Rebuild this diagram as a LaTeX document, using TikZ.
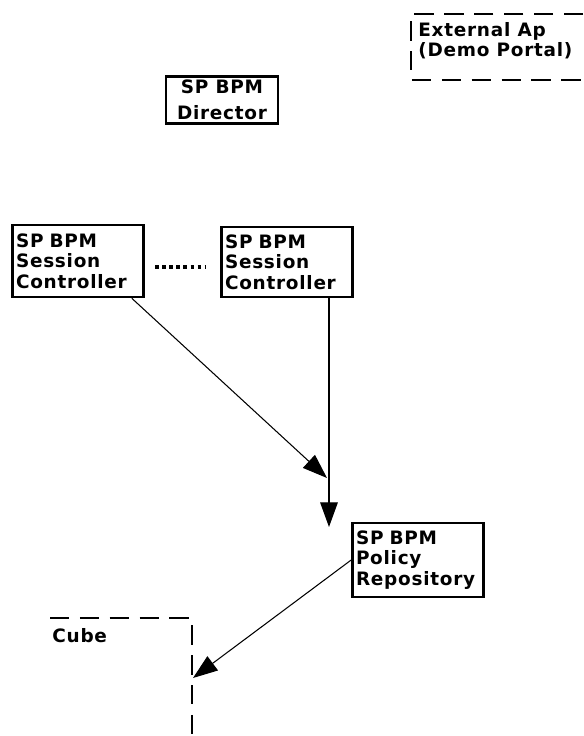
\documentclass[tikz,border=0pt]{standalone}
\usepackage{fontspec}
\newfontfamily\boxfont{DejaVu Sans}[LetterSpace=4]
\usetikzlibrary{arrows.meta}
\usetikzlibrary{positioning}

\tikzset{
  bpmbox/.style={draw=black,line width=1.5pt,rectangle,align=left,inner sep=2pt,
    font=\boxfont\bfseries\fontsize{10.5}{11.6}\selectfont},
  conn/.style={black,line width=0.6pt,-{Triangle[length=14pt,width=10pt]}},
  extbox/.style={black,line width=0.9pt,dash pattern=on 11pt off 6pt},
  lbl/.style={font=\boxfont\bfseries\fontsize{10.5}{11.6}\selectfont,align=left,inner sep=0pt,anchor=west}
}

\begin{document}
\begin{tikzpicture}[x=0.02cm,y=-0.02cm]
\useasboundingbox (0,0) rectangle (583,736);

% boxes
\node[bpmbox,minimum width=112*0.02cm,minimum height=42*0.02cm,align=center] (dir) at (222,100) {SP BPM\\[3pt]Director};
\node[bpmbox,minimum width=130*0.02cm,minimum height=72*0.02cm,text width=124*0.02cm] (sc1) at (78,261) {SP BPM\\Session\\Controller};
\node[bpmbox,minimum width=130*0.02cm,minimum height=70*0.02cm,text width=124*0.02cm] (sc2) at (287,262) {SP BPM\\Session\\Controller};
\node[bpmbox,minimum width=130*0.02cm,minimum height=74*0.02cm,text width=124*0.02cm] (pr) at (418,560) {SP BPM\\Policy\\Repository};

% dashed frames, cut at the border
\draw[extbox] (583,14) -- (411,14) -- (411,80) -- (583,80);
\node[lbl] (ext) at (418,41) {External Ap\\(Demo Portal)};
\draw[extbox] (50,618) -- (192,618) -- (192,736);
\node[lbl] (cube) at (52,636) {Cube};

% connectors
\coordinate (tip1) at (327,478);
\coordinate (tip2) at (329,527);
\coordinate (tip3) at (193,678);
\draw[black,line width=2pt,dotted,shorten <=6pt,shorten >=8pt] (sc1.east |- 0,267) -- (sc2.west |- 0,267);
\draw[conn] ([xshift=-0.26cm]sc1.south east) -- (tip1);
\draw[conn] (sc2.south -| tip2) -- (tip2);
\draw[conn] (pr.west) -- (tip3);

\end{tikzpicture}
\end{document}
